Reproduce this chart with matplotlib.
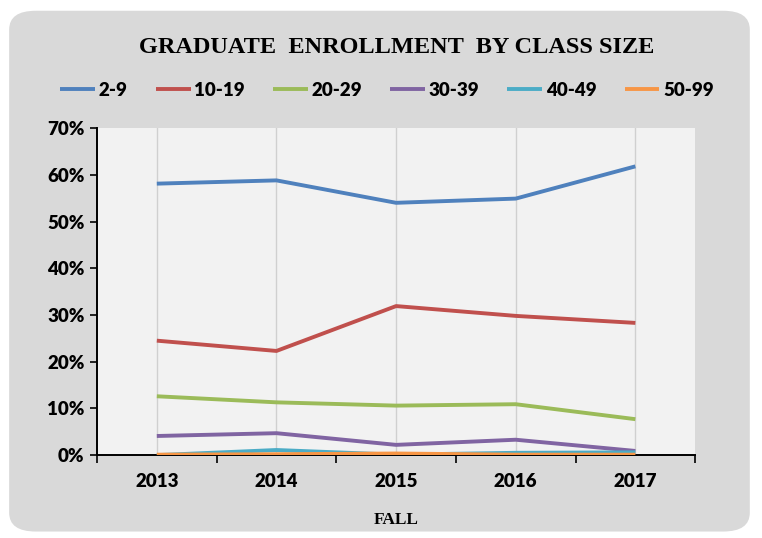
import matplotlib.pyplot as plt
from matplotlib.patches import FancyBboxPatch
from matplotlib.ticker import FuncFormatter, FixedLocator

years = ['2013', '2014', '2015', '2016', '2017']
sizes = ['2-9', '10-19', '20-29', '30-39', '40-49', '50-99']

# share of enrollment, percent
s_2_9 = [58.1, 58.8, 54.0, 54.9, 61.8]
s_10_19 = [24.5, 22.3, 31.9, 29.8, 28.3]
s_20_29 = [12.6, 11.3, 10.6, 10.9, 7.7]
s_30_39 = [4.1, 4.7, 2.2, 3.3, 0.9]
s_40_49 = [0.0, 1.1, 0.1, 0.5, 0.6]
s_50_99 = [0.1, 0.2, 0.35, 0.1, 0.1]

series = [s_2_9, s_10_19, s_20_29, s_30_39, s_40_49, s_50_99]
colors = ['#4f81bd', '#c0504d', '#9bbb59', '#8064a2', '#4bacc6', '#f79646']

plt.rcParams['font.family'] = ['Lato', 'DejaVu Sans']

fig = plt.figure(figsize=(7.62, 5.38), dpi=100, facecolor='white')
bg = FancyBboxPatch((0.012, 0.012), 0.972, 0.968, boxstyle='round,pad=0,rounding_size=0.035',
                    transform=fig.transFigure, facecolor='#d9d9d9', edgecolor='none', zorder=-10)
fig.patches.append(bg)

ax = fig.add_axes([0.1273, 0.154, 0.785, 0.608])
ax.set_facecolor('#f2f2f2')

x = list(range(len(years)))
for name, vals, c in zip(sizes, series, colors):
    ax.plot(x, vals, color=c, lw=2.8, label=name, solid_capstyle='butt', zorder=3)

ax.set_xlim(-0.5, 4.5)
ax.set_ylim(0, 70)
ax.set_yticks(range(0, 71, 10))
ax.yaxis.set_major_formatter(FuncFormatter(lambda v, p: f'{int(v)}%'))
ax.set_xticks(x)
ax.set_xticklabels(years)
ax.xaxis.set_minor_locator(FixedLocator([-0.5, 0.5, 1.5, 2.5, 3.5, 4.5]))
ax.tick_params(axis='x', which='major', length=0, pad=13)
ax.tick_params(axis='x', which='minor', length=6, width=1.2, direction='out')
ax.tick_params(axis='y', length=5, width=1.2, direction='out', pad=4)
for lab in ax.get_xticklabels() + ax.get_yticklabels():
    lab.set_fontweight('heavy')
    lab.set_fontsize(13.5)
    lab.set_color('black')

ax.grid(axis='x', color='#d0d0d0', lw=1.0, zorder=1)
ax.grid(axis='y', visible=False)
for side in ['top', 'right']:
    ax.spines[side].set_visible(False)
for side in ['left', 'bottom']:
    ax.spines[side].set_linewidth(1.4)
    ax.spines[side].set_color('black')

ax.set_xlabel('FALL', fontsize=12.5, fontweight='bold', family='Liberation Serif', labelpad=16)

fig.text(0.52, 0.912, 'GRADUATE  ENROLLMENT  BY CLASS SIZE', ha='center', va='center',
         fontsize=17.5, fontweight='bold', family='Liberation Serif')

fig.legend(loc='center', bbox_to_anchor=(0.508, 0.832), ncol=6, frameon=False,
           handlelength=1.85, handletextpad=0.2, columnspacing=1.5,
           prop={'weight': 'heavy', 'size': 13.5})

fig.savefig('out.png', dpi=100, facecolor=fig.get_facecolor())
